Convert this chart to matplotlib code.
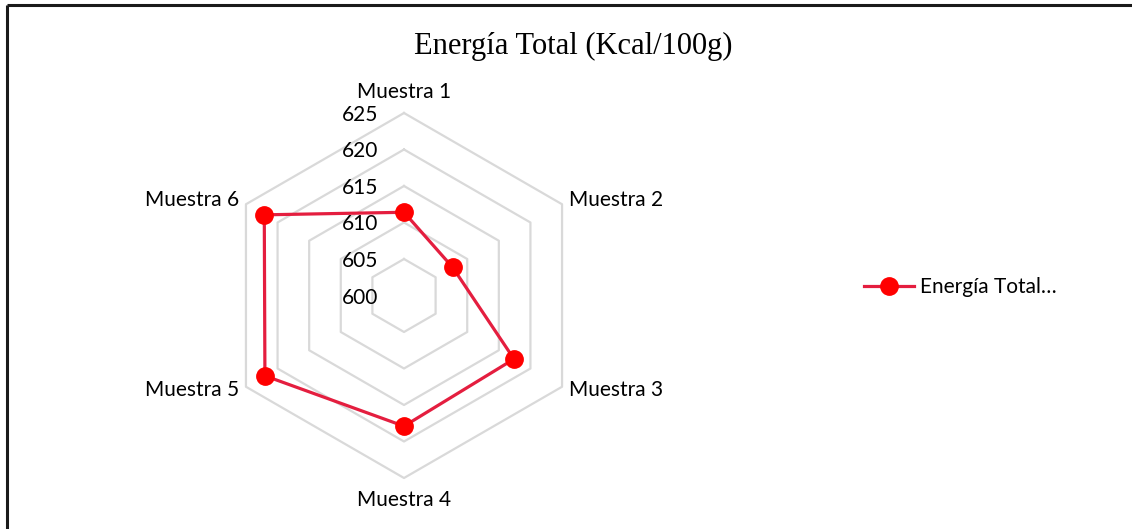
import numpy as np
import matplotlib
matplotlib.use("Agg")
import matplotlib.pyplot as plt
from matplotlib.lines import Line2D

categories = ["Muestra 1", "Muestra 2", "Muestra 3", "Muestra 4", "Muestra 5", "Muestra 6"]
values = [611.4, 607.7, 617.4, 617.9, 622.0, 622.1]
grid_levels = [605, 610, 615, 620, 625]
tick_labels = [600, 605, 610, 615, 620, 625]
r_min, r_max = 600, 625
title = "Energía Total (Kcal/100g)"
series_name = "Energía Total…"

W, H = 1132, 529
fig = plt.figure(figsize=(W / 100, H / 100), dpi=100)

# frame border (top and left visible)
fig.add_artist(Line2D([6.5 / W, 6.5 / W], [0, 1 - 4.5 / H], transform=fig.transFigure,
                      color="#1a1a1a", lw=2.2, solid_capstyle="butt"))
fig.add_artist(Line2D([6.5 / W, 1], [1 - 4.5 / H, 1 - 4.5 / H], transform=fig.transFigure,
                      color="#1a1a1a", lw=2.2, solid_capstyle="butt"))

cx, cy, R = 404, 295.5, 182.5
ax = fig.add_axes([(cx - R) / W, (H - cy - R) / H, 2 * R / W, 2 * R / H], projection="polar")
ax.set_theta_offset(np.pi / 2)
ax.set_theta_direction(-1)
ax.set_ylim(r_min, r_max)
ax.grid(False)
ax.spines["polar"].set_visible(False)
ax.set_xticks([])
ax.set_yticks([])
ax.patch.set_alpha(0)

n = len(categories)
angles = np.arange(n) * 2 * np.pi / n
closed = np.append(angles, angles[0])

for lvl in grid_levels:
    ax.plot(closed, [lvl] * (n + 1), color="#D9D9D9", lw=1.6, zorder=1, clip_on=False)

vals = np.append(values, values[0])
ax.plot(closed, vals, color="#E41E3F", lw=2.3, zorder=3, clip_on=False)
ax.plot(angles, values, linestyle="none", marker="o", markersize=12.5,
        color="#FF0000", zorder=4, clip_on=False)

label_font = "Lato"
fs = 15
for t in tick_labels:
    ax.annotate(str(t), xy=(0, t), xytext=(-26, -2), textcoords="offset pixels",
                ha="right", va="center", fontsize=fs, family=label_font, color="#000000",
                annotation_clip=False)

offsets = [(0, 21, "center"), (7, 4, "left"), (7, -3, "left"),
           (0, -22, "center"), (-7, -3, "right"), (-7, 4, "right")]
for ang, cat, (dx, dy, ha) in zip(angles, categories, offsets):
    ax.annotate(cat, xy=(ang, r_max), xytext=(dx, dy), textcoords="offset pixels",
                ha=ha, va="center", fontsize=fs, family=label_font, color="#000000",
                annotation_clip=False)

fig.text(573 / W, 1 - 46 / H, title, ha="center", va="center",
         fontsize=22, family="Liberation Serif", color="#000000")

handle = Line2D([], [], color="#E41E3F", lw=2.3, marker="o", markersize=12.5,
                markerfacecolor="#FF0000", markeredgecolor="#FF0000")
leg = fig.legend([handle], [series_name], loc="center left",
                 bbox_to_anchor=(845 / W, 1 - 287 / H), frameon=False,
                 prop={"family": label_font, "size": fs}, handlelength=2.4,
                 handletextpad=0.3)

fig.savefig("out.png", dpi=100)
